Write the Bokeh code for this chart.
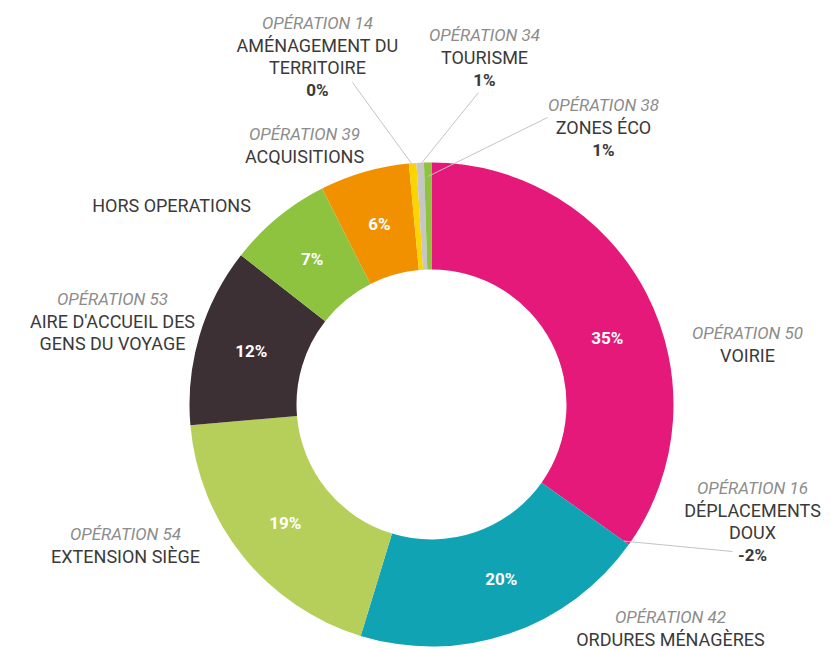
import numpy as np
from bokeh.plotting import figure
from bokeh.models import Range1d, ColumnDataSource
from bokeh.core.properties import value
from bokeh.embed import file_html
from bokeh.resources import INLINE

# ---------------- data ----------------
operations = ["OPÉRATION 50", "OPÉRATION 16", "OPÉRATION 42", "OPÉRATION 54",
              "OPÉRATION 53", "", "OPÉRATION 39", "OPÉRATION 14",
              "OPÉRATION 34", "OPÉRATION 38"]
names = [["VOIRIE"], ["DÉPLACEMENTS", "DOUX"], ["ORDURES MÉNAGÈRES"],
         ["EXTENSION SIÈGE"], ["AIRE D'ACCUEIL DES", "GENS DU VOYAGE"],
         ["HORS OPERATIONS"], ["ACQUISITIONS"], ["AMÉNAGEMENT DU", "TERRITOIRE"],
         ["TOURISME"], ["ZONES ÉCO"]]
pct_labels = ["35%", "-2%", "20%", "19%", "12%", "7%", "6%", "0%", "1%", "1%"]
# slice sizes as drawn (share of the ring)
shares = [35, 0, 20, 19, 12, 7, 6, 0.5, 0.5, 0.5]
colors = ["#e4197a", "#e4197a", "#10a3b3", "#b6cf5b", "#3d3034", "#8dc33f",
          "#f29100", "#fdd300", "#c6c6c6", "#8dc33f"]
inside = [True, False, True, True, True, True, True, False, False, False]

# ---------------- layout (image pixel coords) ----------------
W, H = 830, 649
CX, CY = 431, 404
R_IN, R_OUT = 135, 242
label_x = [747, 752, 670, 125, 112, 171, 304, 317, 484, 603]
label_y0 = [332, 487, 616, 533, 298, 205, 133, 22, 34, 104]
LINE_H = 22.5
inside_angle_shift = [6.5, 0, -3, 0, 0, 0, 0, 0, 0, 0]  # degrees
leader_start = {1: (732, 551), 7: (352, 82), 8: (478, 92), 9: (547, 117)}
leader_r = {1: 236, 7: 240, 8: 240, 9: 228}

def fy(y):
    return H - y

p = figure(width=W, height=H, x_range=Range1d(0, W), y_range=Range1d(0, H),
           x_axis_type=None, y_axis_type=None, toolbar_location=None,
           output_backend="svg", min_border=0)
p.grid.visible = False
p.outline_line_color = None
p.background_fill_color = "white"

total = float(sum(shares))
cum = np.cumsum([0] + shares)
start_cw = cum[:-1] / total * 2 * np.pi
end_cw = cum[1:] / total * 2 * np.pi
mid_cw = (start_cw + end_cw) / 2

idx = [i for i in range(len(shares)) if shares[i] > 0]
src = ColumnDataSource(dict(
    x=[CX] * len(idx), y=[fy(CY)] * len(idx),
    start=[np.pi / 2 - start_cw[i] for i in idx],
    end=[np.pi / 2 - end_cw[i] for i in idx],
    color=[colors[i] for i in idx]))
p.annular_wedge(x="x", y="y", inner_radius=R_IN, outer_radius=R_OUT,
                start_angle="start", end_angle="end", direction="clock",
                fill_color="color", line_color=None, source=src)

# percentages inside slices
R_MID = 188
ix = [i for i in range(len(shares)) if inside[i]]
ang_in = [mid_cw[i] + np.radians(inside_angle_shift[i]) for i in ix]
p.text(x=[CX + R_MID * np.sin(a) for a in ang_in],
       y=[fy(CY - R_MID * np.cos(a)) for a in ang_in],
       text=[pct_labels[i] for i in ix], text_align="center", text_baseline="middle",
       text_color="white", text_font=value("Roboto"), text_font_style="bold",
       text_font_size="17px")

# leader lines
for i, (sx, sy) in leader_start.items():
    ang = start_cw[i] if shares[i] == 0 else mid_cw[i]
    ex = CX + leader_r[i] * np.sin(ang)
    ey = CY - leader_r[i] * np.cos(ang)
    p.line([sx, ex], [fy(sy), fy(ey)], line_color="#c4c4c4", line_width=1)

# outer labels
op_x, op_y, op_t = [], [], []
nm_x, nm_y, nm_t = [], [], []
pc_x, pc_y, pc_t = [], [], []
for i in range(len(shares)):
    y = label_y0[i]
    if operations[i]:
        op_x.append(label_x[i]); op_y.append(fy(y)); op_t.append(operations[i])
        y += LINE_H
    for line in names[i]:
        nm_x.append(label_x[i]); nm_y.append(fy(y)); nm_t.append(line)
        y += LINE_H
    if not inside[i]:
        pc_x.append(label_x[i]); pc_y.append(fy(y)); pc_t.append(pct_labels[i])

p.text(x=op_x, y=op_y, text=op_t, text_align="center", text_baseline="middle",
       text_color="#8c8c8c", text_font=value("Roboto"), text_font_style="italic",
       text_font_size="17px")
p.text(x=nm_x, y=nm_y, text=nm_t, text_align="center", text_baseline="middle",
       text_color="#3a3a3a", text_font=value("Roboto"), text_font_size="18px")
p.text(x=pc_x, y=pc_y, text=pc_t, text_align="center", text_baseline="middle",
       text_color="#3a3a3a", text_font=value("Roboto"), text_font_style="bold",
       text_font_size="17px")

open("out.html", "w").write(file_html(p, INLINE))
